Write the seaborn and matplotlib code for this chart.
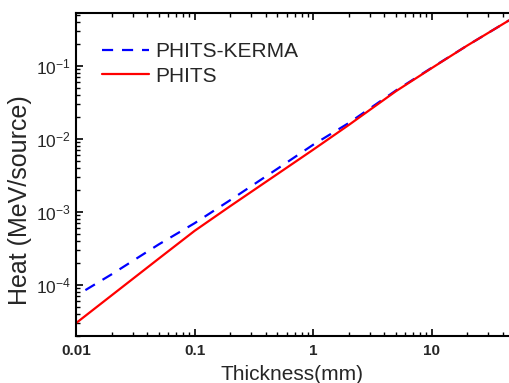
#%% libraries
import pandas as pd
import seaborn as sb
import matplotlib.pyplot as plt
from matplotlib.ticker import LogLocator, FixedLocator, FixedFormatter, NullFormatter

#%% data
thick_kerma = [0.012, 0.02, 0.05, 0.1, 0.2, 0.5, 1, 2, 5, 10, 20, 45]
heat_kerma = [8.5e-5, 1.4e-4, 3.6e-4, 7.0e-4, 1.45e-3, 3.9e-3, 8.3e-3, 1.65e-2, 4.6e-2, 9.4e-2, 0.19, 0.42]

thick_phits = [0.01, 0.05, 0.1, 0.2, 0.5, 1, 2, 5, 10, 20, 45]
heat_phits = [3.0e-5, 2.3e-4, 5.5e-4, 1.2e-3, 3.3e-3, 7.1e-3, 1.55e-2, 4.5e-2, 9.3e-2, 0.19, 0.42]

df = pd.concat([
    pd.DataFrame({'thickness': thick_kerma, 'heat': heat_kerma, 'code': 'PHITS-KERMA'}),
    pd.DataFrame({'thickness': thick_phits, 'heat': heat_phits, 'code': 'PHITS'}),
])

#%% plot
sb.set_style('ticks')
plt.rcParams['font.family'] = ['Liberation Sans', 'DejaVu Sans']
plt.rcParams['mathtext.fontset'] = 'custom'
plt.rcParams['mathtext.rm'] = 'Liberation Sans'

fig = plt.figure(figsize=(5.1, 3.83), dpi=100)
ax = fig.add_axes([76/510, 47/383, 433/510, 323/383])

sb.lineplot(data=df, x='thickness', y='heat', hue='code', style='code',
            palette={'PHITS-KERMA': '#0000ff', 'PHITS': '#ff0000'},
            dashes={'PHITS-KERMA': (5, 4), 'PHITS': ''},
            linewidth=1.6, ax=ax, sort=False)

ax.set_xscale('log')
ax.set_yscale('log')
ax.set_xlim(0.01, 45)
ax.set_ylim(2e-5, 0.53)

ax.xaxis.set_major_locator(FixedLocator([0.01, 0.1, 1, 10]))
ax.xaxis.set_major_formatter(FixedFormatter(['0.01', '0.1', '1', '10']))
ax.xaxis.set_minor_locator(LogLocator(base=10, subs=range(2, 10)))
ax.xaxis.set_minor_formatter(NullFormatter())
ax.yaxis.set_major_locator(FixedLocator([1e-4, 1e-3, 1e-2, 1e-1]))
ax.yaxis.set_minor_locator(LogLocator(base=10, subs=range(2, 10)))
ax.yaxis.set_minor_formatter(NullFormatter())

for lab in ax.get_xticklabels():
    lab.set_fontweight('bold')
    lab.set_fontsize(11)
ax.tick_params(which='both', direction='in', top=True, right=False, color='black')
ax.tick_params(axis='y', labelsize=12.5)
ax.tick_params(which='major', length=5, width=1.2)
ax.tick_params(which='minor', length=3, width=1)
ax.tick_params(axis='x', pad=6)

for side in ['left', 'bottom', 'top']:
    ax.spines[side].set_linewidth(1.5)
    ax.spines[side].set_color('black')
ax.spines['right'].set_visible(False)

ax.set_xlabel('Thickness(mm)', fontsize=15, labelpad=5)
ax.set_ylabel('Heat (MeV/source)', fontsize=18)
# label sits a bit below the axis centre in the original
ax.yaxis.set_label_coords(-0.102, 0.42)

leg = ax.legend(loc='upper left', frameon=False, fontsize=15, handlelength=2.25,
                handletextpad=0.3, borderaxespad=0, bbox_to_anchor=(0.04, 0.935),
                labelspacing=0.25)

plt.savefig('out.png', dpi=100)
